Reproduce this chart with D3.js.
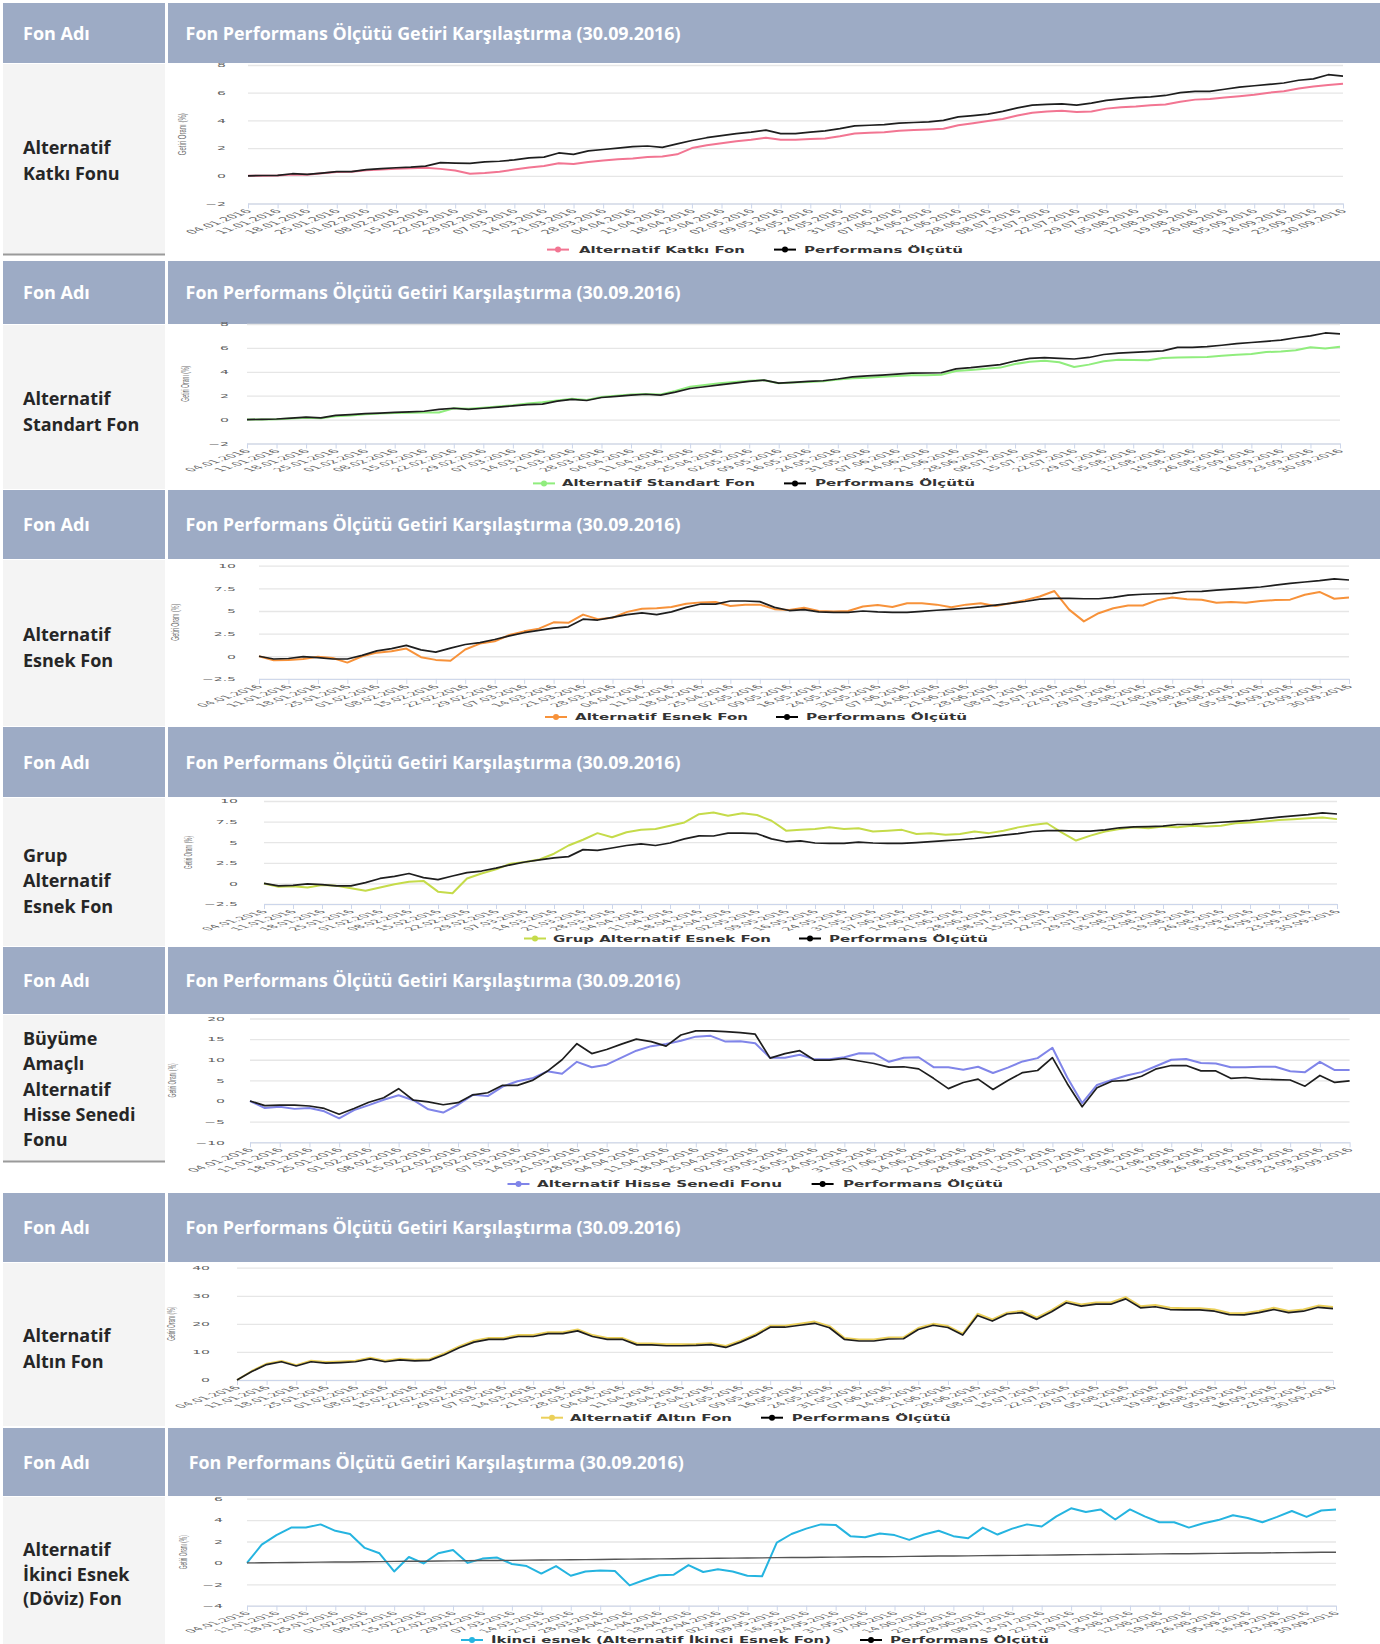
<!DOCTYPE html>
<html><head><meta charset="utf-8">
<script src="https://cdn.jsdelivr.net/npm/d3@7"></script>
<style>body{margin:0;background:#fff}svg{display:block}</style>
</head><body>
<svg id="c" width="1380" height="1644"></svg>
<script>
// ---------- DATA ----------
const dateTicks = ["04.01.2016","11.01.2016","18.01.2016","25.01.2016","01.02.2016","08.02.2016","15.02.2016","22.02.2016","29.02.2016","07.03.2016","14.03.2016","21.03.2016","28.03.2016","04.04.2016","11.04.2016","18.04.2016","25.04.2016","02.05.2016","09.05.2016","16.05.2016","24.05.2016","31.05.2016","07.06.2016","14.06.2016","21.06.2016","28.06.2016","08.07.2016","15.07.2016","22.07.2016","29.07.2016","05.08.2016","12.08.2016","19.08.2016","26.08.2016","05.09.2016","16.09.2016","23.09.2016","30.09.2016"];
// sample positions, in tick steps (half a tick apart)
const samplePos = d3.range(75).map(i => i / 2);

const fundNames = ["Alternatif Katkı Fon","Alternatif Standart Fon","Alternatif Esnek Fon","Grup Alternatif Esnek Fon","Alternatif Hisse Senedi Fonu","Alternatif Altın Fon","İkinci esnek (Alternatif İkinci Esnek Fon)"];
const benchName = "Performans Ölçütü";
const leftLabels = [["Alternatif","Katkı Fonu"],["Alternatif","Standart Fon"],["Alternatif","Esnek Fon"],["Grup","Alternatif","Esnek Fon"],["Büyüme","Amaçlı","Alternatif","Hisse Senedi","Fonu"],["Alternatif","Altın Fon"],["Alternatif","İkinci Esnek","(Döviz) Fon"]];

const katkiFon = [0,0,0.02,0.1,0.08,0.18,0.28,0.3,0.4,0.45,0.5,0.55,0.58,0.5, 0.38,0.15,0.2,0.3,0.45,0.6,0.7,0.9,0.85,1.0,1.1,1.2,1.25,1.35, 1.4,1.55,2.0,2.2,2.35,2.5,2.6,2.75,2.6,2.6,2.65,2.7,2.85,3.05, 3.1,3.15,3.25,3.3,3.35,3.4,3.65,3.8,3.95,4.1,4.35,4.55,4.65,4.7, 4.6,4.65,4.85,4.95,5.0,5.1,5.15,5.35,5.5,5.55,5.65,5.75,5.85,6.0, 6.1,6.3,6.45,6.55,6.65];
const katkiOlcut = [0,0.02,0.03,0.15,0.1,0.2,0.3,0.3,0.45,0.52,0.58,0.62,0.7,0.95, 0.92,0.9,1.0,1.05,1.15,1.3,1.35,1.65,1.55,1.8,1.9,2.0,2.1,2.15, 2.05,2.3,2.55,2.75,2.9,3.05,3.15,3.3,3.05,3.05,3.15,3.25,3.4,3.6, 3.65,3.7,3.8,3.85,3.9,4.0,4.25,4.35,4.45,4.65,4.9,5.1,5.15,5.2, 5.1,5.25,5.45,5.55,5.65,5.7,5.8,6.0,6.1,6.1,6.25,6.4,6.5,6.6, 6.7,6.9,7.0,7.3,7.2];
const standartFon = [0,0,0.03,0.1,0.15,0.12,0.28,0.35,0.45,0.5,0.55,0.58,0.6,0.6, 0.95,0.9,1.0,1.1,1.2,1.35,1.45,1.6,1.75,1.65,1.9,2.0,2.1,2.15, 2.1,2.4,2.75,2.9,3.05,3.15,3.25,3.3,3.05,3.1,3.15,3.2,3.35,3.45, 3.5,3.58,3.65,3.72,3.72,3.75,4.06,4.15,4.25,4.35,4.65,4.85,4.93,4.8, 4.4,4.6,4.88,5.0,4.98,4.96,5.15,5.2,5.22,5.24,5.35,5.42,5.48,5.65, 5.7,5.8,6.05,5.95,6.1];
const standartOlcut = [0,0.02,0.05,0.12,0.2,0.15,0.35,0.42,0.5,0.55,0.6,0.65,0.7,0.85, 0.95,0.85,0.95,1.05,1.15,1.25,1.3,1.55,1.7,1.6,1.85,1.95,2.05,2.12, 2.05,2.3,2.6,2.75,2.9,3.05,3.2,3.3,3.05,3.12,3.2,3.25,3.4,3.58, 3.66,3.72,3.8,3.89,3.9,3.92,4.25,4.35,4.48,4.6,4.9,5.12,5.18,5.12, 5.07,5.2,5.45,5.57,5.63,5.68,5.75,6.05,6.05,6.1,6.22,6.35,6.45,6.55, 6.65,6.85,7.0,7.25,7.18];
const esnekFon = [0,-0.45,-0.4,-0.3,-0.05,-0.2,-0.7,0.0,0.4,0.55,0.85,-0.1,-0.4,-0.5, 0.75,1.4,1.65,2.35,2.75,3.05,3.75,3.7,4.6,4.1,4.25,4.9,5.25,5.3, 5.45,5.8,5.95,6.0,5.55,5.7,5.7,5.2,5.1,5.35,5.0,4.95,5.0,5.5, 5.65,5.45,5.85,5.85,5.7,5.4,5.7,5.86,5.55,5.85,6.2,6.6,7.2,5.15, 3.85,4.75,5.3,5.6,5.6,6.2,6.5,6.3,6.25,5.9,6.0,5.9,6.1,6.2, 6.25,6.8,7.1,6.35,6.5];
const esnekOlcut = [0,-0.3,-0.25,-0.05,-0.15,-0.3,-0.3,0.1,0.6,0.85,1.2,0.7,0.45,0.9, 1.3,1.5,1.85,2.25,2.6,2.85,3.1,3.25,4.1,4.0,4.3,4.6,4.8,4.6, 4.9,5.4,5.77,5.75,6.1,6.1,6.03,5.4,5.05,5.15,4.9,4.85,4.85,5.0, 4.9,4.85,4.85,4.95,5.08,5.18,5.3,5.45,5.65,5.85,6.05,6.3,6.4,6.4, 6.35,6.35,6.5,6.75,6.85,6.9,6.95,7.15,7.17,7.3,7.42,7.52,7.65,7.85, 8.05,8.2,8.35,8.55,8.42];
const grupFon = [0,-0.4,-0.35,-0.5,-0.2,-0.3,-0.6,-0.9,-0.5,-0.1,0.2,0.3,-1.0,-1.2, 0.6,1.2,1.7,2.4,2.6,2.9,3.6,4.6,5.3,6.1,5.6,6.2,6.5,6.6, 7.0,7.4,8.4,8.6,8.2,8.5,8.3,7.6,6.4,6.5,6.6,6.8,6.6,6.7, 6.3,6.4,6.5,6.0,6.1,5.9,6.0,6.3,6.1,6.4,6.8,7.1,7.3,6.2, 5.2,5.8,6.3,6.6,6.8,6.7,6.9,6.8,7.0,6.9,7.0,7.3,7.4,7.5, 7.7,7.8,7.9,8.0,7.8];
const grupOlcut = [0,-0.3,-0.25,-0.05,-0.15,-0.3,-0.3,0.1,0.6,0.85,1.2,0.7,0.45,0.9, 1.3,1.5,1.85,2.25,2.6,2.85,3.1,3.25,4.1,4.0,4.3,4.6,4.8,4.6, 4.9,5.4,5.77,5.75,6.1,6.1,6.03,5.4,5.05,5.15,4.9,4.85,4.85,5.0, 4.9,4.85,4.85,4.95,5.08,5.18,5.3,5.45,5.65,5.85,6.05,6.3,6.4,6.4, 6.35,6.35,6.5,6.75,6.85,6.9,6.95,7.15,7.17,7.3,7.42,7.52,7.65,7.85, 8.05,8.2,8.35,8.55,8.42];
const hisseFon = [0,-1.7,-1.4,-1.9,-1.7,-2.5,-4.2,-2.2,-1.0,0.3,1.4,0.2,-2.0,-2.8, -0.9,1.5,1.2,3.5,4.8,5.5,7.2,6.6,9.5,8.2,8.8,10.5,12.2,13.3, 13.8,14.6,15.6,15.8,14.4,14.5,14.0,10.5,10.5,11.2,10.1,10.1,10.6,11.6, 11.5,9.5,10.5,10.6,8.2,8.2,7.6,8.3,6.8,8.1,9.6,10.4,12.9,5.7, -0.5,3.9,5.1,6.2,7.0,8.5,10.0,10.2,9.2,9.1,8.2,8.2,8.3,8.3, 7.2,7.0,9.5,7.5,7.5];
const hisseOlcut = [0,-1.1,-1.0,-1.0,-1.2,-1.8,-3.2,-1.8,-0.3,0.8,3.0,0.2,-0.2,-0.9, -0.4,1.5,2.0,3.8,3.8,5.0,7.2,10.0,13.9,11.5,12.5,13.8,15.0,14.4, 13.3,16.0,17.0,17.0,16.8,16.6,16.2,10.4,11.5,12.2,9.9,9.9,10.3,9.7, 9.1,8.2,8.3,7.8,5.5,3.0,4.5,5.3,2.8,5.0,6.9,7.4,10.5,4.2, -1.4,3.2,4.8,5.0,6.0,7.8,8.6,8.6,7.3,7.3,5.5,5.7,5.3,5.2, 5.1,3.6,6.2,4.5,4.9];
const altinFon = [0,3.2,5.8,6.8,5.3,6.9,6.4,6.6,6.9,7.9,6.9,7.6,7.2,7.4, 9.5,12.0,14.0,15.0,15.0,16.0,16.0,17.0,17.0,18.0,16.0,15.0,15.0,13.0, 13.0,12.7,12.7,12.8,13.1,12.1,14.0,16.3,19.3,19.3,20.0,20.8,19.2,15.0, 14.4,14.4,15.1,15.2,18.5,20.0,19.2,16.5,23.6,21.6,24.0,24.6,22.2,24.9, 28.1,26.9,27.6,27.6,29.5,26.3,26.7,25.7,25.6,25.6,25.1,23.9,23.8,24.6, 25.7,24.6,25.1,26.5,26.0];
const altinOlcut = [0,3.0,5.5,6.5,5.0,6.5,6.0,6.2,6.5,7.5,6.5,7.2,6.8,7.0, 9.0,11.5,13.5,14.5,14.5,15.5,15.5,16.5,16.5,17.5,15.5,14.5,14.5,12.5, 12.5,12.2,12.2,12.3,12.6,11.6,13.5,15.8,18.8,18.8,19.5,20.2,18.6,14.5, 13.9,13.9,14.6,14.7,18.0,19.5,18.7,16.0,23.0,21.0,23.5,24.0,21.6,24.3, 27.5,26.3,27.0,27.0,28.9,25.7,26.1,25.1,25.0,25.0,24.5,23.3,23.2,24.0, 25.1,24.0,24.5,25.9,25.4];
const dovizFon = [0,1.7,2.6,3.3,3.3,3.6,3.0,2.7,1.4,0.9,-0.8,0.55,-0.05,0.9, 1.2,0.0,0.4,0.5,-0.1,-0.3,-1.0,-0.3,-1.2,-0.8,-0.7,-0.75,-2.1,-1.6, -1.15,-1.1,-0.2,-0.85,-0.6,-0.8,-1.2,-1.25,1.9,2.7,3.2,3.6,3.55,2.5, 2.4,2.75,2.6,2.15,2.65,3.0,2.5,2.3,3.3,2.65,3.2,3.6,3.4,4.35, 5.1,4.75,5.0,4.06,5.0,4.35,3.8,3.8,3.3,3.7,4.0,4.45,4.2,3.8, 4.3,4.85,4.3,4.9,5.0];
const dovizOlcut = [0,0.01,0.03,0.04,0.05,0.07,0.08,0.09,0.11,0.12,0.14,0.15,0.16,0.18, 0.19,0.2,0.22,0.23,0.24,0.26,0.27,0.28,0.3,0.31,0.32,0.34,0.35,0.36, 0.38,0.39,0.41,0.42,0.43,0.45,0.46,0.47,0.49,0.5,0.51,0.53,0.54,0.55, 0.57,0.58,0.59,0.61,0.62,0.64,0.65,0.66,0.68,0.69,0.7,0.72,0.73,0.74, 0.76,0.77,0.78,0.8,0.81,0.82,0.84,0.85,0.86,0.88,0.89,0.9,0.92,0.93, 0.95,0.96,0.97,0.99,1.0];

const fundSeries = [katkiFon, standartFon, esnekFon, grupFon, hisseFon, altinFon, dovizFon];
const benchSeries = [katkiOlcut, standartOlcut, esnekOlcut, grupOlcut, hisseOlcut, altinOlcut, dovizOlcut];
const yTickSets = [[-2,0,2,4,6,8],[-2,0,2,4,6,8],[-2.5,0,2.5,5,7.5,10],[-2.5,0,2.5,5,7.5,10],[-10,-5,0,5,10,15,20],[0,10,20,30,40],[-4,-2,0,2,4,6]];

// ---------- LAYOUT ----------
const HEADER_BG = "#9DABC5";
const sections = [
  {hy:3, hb:63, leftEnd:255, border:true, base:154, step:26, titleX:185.6},
  {hy:261, hb:324, leftEnd:489, border:false, base:405, step:25.5, titleX:185.6},
  {hy:490, hb:559, leftEnd:726, border:false, base:641, step:26, titleX:185.6},
  {hy:727, hb:797, leftEnd:946, border:false, base:861.5, step:25.5, titleX:185.6},
  {hy:947, hb:1014, leftEnd:1162, border:true, base:1045, step:25.3, titleX:185.6},
  {hy:1193, hb:1262, leftEnd:1426, border:false, base:1342, step:26, titleX:185.6},
  {hy:1428, hb:1496, leftEnd:1644, border:false, base:1556, step:24.6, titleX:188.7}
];
const charts = [
  {x0:248, x1:1343, yTop:65, yBot:203.5, labelR:226, titleX:182, titleLen:42, legY:249.6, leg:[[547,579,166],[774,804,159]], color:"#f27592", lsy:0.88},
  {x0:247, x1:1340, yTop:324, yBot:443.5, labelR:229, titleX:185, titleLen:36, legY:483.4, leg:[[533,562,193],[784,815,160]], color:"#90ed7d", lsy:0.78},
  {x0:259, x1:1349, yTop:565.7, yBot:678.9, labelR:236, titleX:175, titleLen:37, legY:717, leg:[[545,575,173],[776,806,161]], color:"#f7923a", lsy:0.78},
  {x0:264, x1:1337, yTop:801, yBot:904, labelR:238, titleX:188, titleLen:33, legY:938.5, leg:[[524,553,218],[799,829,159]], color:"#c5db4a", lsy:0.72},
  {x0:250, x1:1349.6, yTop:1018.5, yBot:1142.3, labelR:225, titleX:172, titleLen:34, legY:1184, leg:[[507.5,537,245],[811.6,843,160]], color:"#8085e9", lsy:0.85},
  {x0:237, x1:1333, yTop:1267.7, yBot:1380, labelR:210, titleX:171, titleLen:34, legY:1417.7, leg:[[541,570,162],[761,791.7,159]], color:"#ebd05a", lsy:0.78},
  {x0:247, x1:1336, yTop:1498.7, yBot:1605.7, labelR:223, titleX:183, titleLen:34, legY:1640, leg:[[461,491,340],[860,890,159]], color:"#25b4e0", lsy:0.74}
];

const svg = d3.select("#c");

// ---------- TABLE ----------
sections.forEach((s, i) => {
  svg.append("rect").attr("x",3).attr("y",s.hy).attr("width",162).attr("height",s.hb - s.hy).attr("fill",HEADER_BG);
  svg.append("rect").attr("x",168).attr("y",s.hy).attr("width",1212).attr("height",s.hb - s.hy).attr("fill",HEADER_BG);
  const cy = (s.hy + s.hb) / 2 + 6.5;
  svg.append("text").attr("x",23).attr("y",cy).text("Fon Adı")
    .attr("fill","#fff").style("font-family","'Open Sans'").style("font-weight","700").style("font-size","18px");
  svg.append("text").attr("x",s.titleX).attr("y",cy).text("Fon Performans Ölçütü Getiri Karşılaştırma (30.09.2016)")
    .attr("textLength",495).attr("lengthAdjust","spacingAndGlyphs")
    .attr("fill","#fff").style("font-family","'Open Sans'").style("font-weight","700").style("font-size","18px");
  svg.append("rect").attr("x",3).attr("y",s.hb + 1).attr("width",162).attr("height",s.leftEnd - s.hb - 1).attr("fill","#f4f4f4");
  if (s.border) svg.append("rect").attr("x",3).attr("y",s.leftEnd - 1.5).attr("width",162).attr("height",2).attr("fill","#9a9a9a");
  leftLabels[i].forEach((t, k) => {
    svg.append("text").attr("x",23).attr("y",s.base + k * s.step).text(t)
      .attr("fill","#262626").style("font-family","'Open Sans'").style("font-weight","700").style("font-size","18px");
  });
});

// ---------- CHARTS ----------
const fmtY = v => (v < 0 ? "−" + Math.abs(v) : String(v));
charts.forEach((c, i) => {
  const g = svg.append("g");
  const ticks = yTickSets[i];
  const x = d3.scaleLinear().domain([0, dateTicks.length - 1]).range([c.x0, c.x1]);
  const y = d3.scaleLinear().domain(d3.extent(ticks)).range([c.yBot, c.yTop]);

  const ya = g.append("g").attr("transform", `translate(${c.x0},0)`)
    .call(d3.axisLeft(y).tickValues(ticks).tickSize(-(c.x1 - c.x0)).tickFormat(fmtY));
  ya.attr("font-family", null).attr("font-size", null);
  ya.select(".domain").remove();
  ya.selectAll(".tick line").attr("stroke", "#e6e6e6").attr("stroke-width", 1.3);
  ya.selectAll(".tick text")
    .attr("x", null).attr("dy", null)
    .attr("transform", `translate(${c.labelR - c.x0},0) scale(2.0,0.8)`)
    .attr("text-anchor", "end").attr("dominant-baseline", "central")
    .attr("fill", "#606060").style("font-family", "'DejaVu Sans'").style("font-size", "7px");

  const xa = g.append("g").attr("transform", `translate(0,${c.yBot})`)
    .call(d3.axisBottom(x).tickValues(d3.range(dateTicks.length)).tickSize(5).tickSizeOuter(0).tickFormat(k => dateTicks[k]));
  xa.attr("font-family", null).attr("font-size", null);
  xa.select(".domain").attr("stroke", "#ccd6eb");
  xa.selectAll(".tick line").attr("stroke", "#ccd6eb");
  xa.selectAll(".tick text")
    .attr("y", null).attr("dy", null)
    .attr("transform", `translate(4,8) scale(2.3,${c.lsy}) rotate(-45)`)
    .attr("text-anchor", "end")
    .attr("fill", "#666").style("font-family", "'DejaVu Sans'").style("font-size", "6.5px");

  g.append("text")
    .attr("transform", `translate(${c.titleX},${(c.yTop + c.yBot) / 2}) rotate(-90)`)
    .attr("text-anchor", "middle").attr("dominant-baseline", "central")
    .attr("textLength", c.titleLen).attr("lengthAdjust", "spacingAndGlyphs")
    .attr("fill", "#707070").style("font-family", "'Liberation Sans'").style("font-size", "11px")
    .text("Getiri Oranı (%)");

  const line = d3.line().x((d, k) => x(samplePos[k])).y(d => y(d));
  g.append("path").datum(fundSeries[i]).attr("d", line)
    .attr("fill", "none").attr("stroke", c.color).attr("stroke-width", 2).attr("stroke-linejoin", "round");
  g.append("path").datum(benchSeries[i]).attr("d", line)
    .attr("fill", "none").attr("stroke", i === 6 ? "#555" : "#1e1e1e").attr("stroke-width", i === 6 ? 1.4 : 1.7).attr("stroke-linejoin", "round");

  const items = [[fundNames[i], c.color], [benchName, "#000"]];
  items.forEach(([name, col], k) => {
    const [sx, tx, tw] = c.leg[k];
    g.append("line").attr("x1", sx).attr("x2", sx + 22).attr("y1", c.legY).attr("y2", c.legY)
      .attr("stroke", col).attr("stroke-width", 2);
    g.append("circle").attr("cx", sx + 11).attr("cy", c.legY).attr("r", 3).attr("fill", col);
    g.append("text").attr("x", tx).attr("y", c.legY).attr("dominant-baseline", "central")
      .attr("textLength", tw).attr("lengthAdjust", "spacingAndGlyphs")
      .attr("fill", "#333").style("font-family", "'DejaVu Sans'").style("font-weight", "700").style("font-size", "9px")
      .text(name);
  });
});
</script>
</body></html>
